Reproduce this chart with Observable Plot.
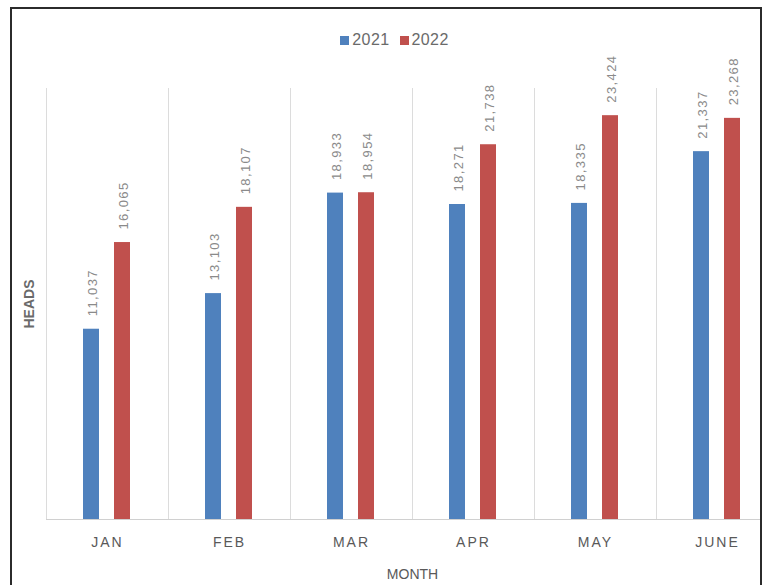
<!DOCTYPE html>
<html>
<head>
<meta charset="utf-8">
<script src="https://cdn.jsdelivr.net/npm/d3@7"></script>
<script src="https://cdn.jsdelivr.net/npm/@observablehq/plot@0.6"></script>
<style>
  html, body { margin: 0; padding: 0; background: #fff; }
  #page { position: relative; width: 765px; height: 585px; overflow: hidden; background: #fff; font-family: "Liberation Sans", Arial, sans-serif; }
  #box { position: absolute; left: 10px; top: 7px; width: 748px; height: 640px; border: 2px solid #2b2b2b; overflow: hidden; }
  #chart { position: absolute; left: -12px; top: -9px; width: 790px; height: 585px; }
  #chart svg { max-width: none; }
  #legend { position: absolute; left: -12px; top: 21px; width: 789px; height: 20px; display: flex; justify-content: center; align-items: center; font-size: 16px; color: #6a6a6a; letter-spacing: 0.4px; }
  #legend .item { display: flex; align-items: center; margin: 0 5px; }
  #legend .sw { width: 9px; height: 9px; margin-right: 3px; }
  #chart g[aria-label="text"] text { letter-spacing: 1.4px; }
  #chart g[aria-label="fx-axis tick label"] text { letter-spacing: 2px; }
</style>
</head>
<body>
<div id="page">
  <div id="box">
    <div id="legend"></div>
    <div id="chart"></div>
  </div>
</div>
<script>
// Monthly head counts, first half of 2021 vs 2022
const months = ["JAN", "FEB", "MAR", "APR", "MAY", "JUNE"];
const years = ["2021", "2022"];
const heads2021 = [11037, 13103, 18933, 18271, 18335, 21337];
const heads2022 = [16065, 18107, 18954, 21738, 23424, 23268];
const yearColors = ["#4f81bd", "#c0504d"];

const rows = months.flatMap((m, i) => [
  {month: m, year: years[0], heads: heads2021[i]},
  {month: m, year: years[1], heads: heads2022[i]}
]);

// Legend
const legend = document.getElementById("legend");
years.forEach((y, i) => {
  const item = document.createElement("span");
  item.className = "item";
  const sw = document.createElement("span");
  sw.className = "sw";
  sw.style.background = yearColors[i];
  const label = document.createElement("span");
  label.textContent = y;
  item.append(sw, label);
  legend.append(item);
});

const fmt = d3.format(",");

const chart = Plot.plot({
  width: 790,
  height: 585,
  marginLeft: 45,
  marginRight: 12,
  marginTop: 88,
  marginBottom: 66,
  style: {background: "transparent", fontFamily: "Liberation Sans, Arial, sans-serif"},
  fx: {domain: months, padding: 0},
  x: {domain: years, paddingInner: 0.47, paddingOuter: 1.2, axis: null},
  y: {domain: [0, 25000]},
  color: {domain: years, range: yearColors},
  marks: [
    Plot.frame({anchor: "left", stroke: "#dcdcdc"}),
    Plot.ruleY([0], {stroke: "#d0d0d0"}),
    Plot.barY(rows, {fx: "month", x: "year", y: "heads", fill: "year"}),
    Plot.text(rows, {
      fx: "month", x: "year", y: "heads",
      text: d => fmt(d.heads),
      rotate: -90, textAnchor: "start",
      dy: -13, dx: 1,
      fill: "#8a8a8a", fontSize: 13
    }),
    Plot.axisFx({
      anchor: "bottom", tickSize: 0, tickPadding: 18,
      fontSize: 14, fill: "#595959",
      label: "MONTH", labelAnchor: "center", labelOffset: 59, labelArrow: "none"
    }),
    Plot.axisY({
      anchor: "left", ticks: [], tickSize: 0,
      fontSize: 14, fontWeight: "bold", fill: "#6a6a6a",
      label: "HEADS", labelAnchor: "center", labelOffset: 22, labelArrow: "none"
    })
  ]
});

document.getElementById("chart").append(chart);
</script>
</body>
</html>
